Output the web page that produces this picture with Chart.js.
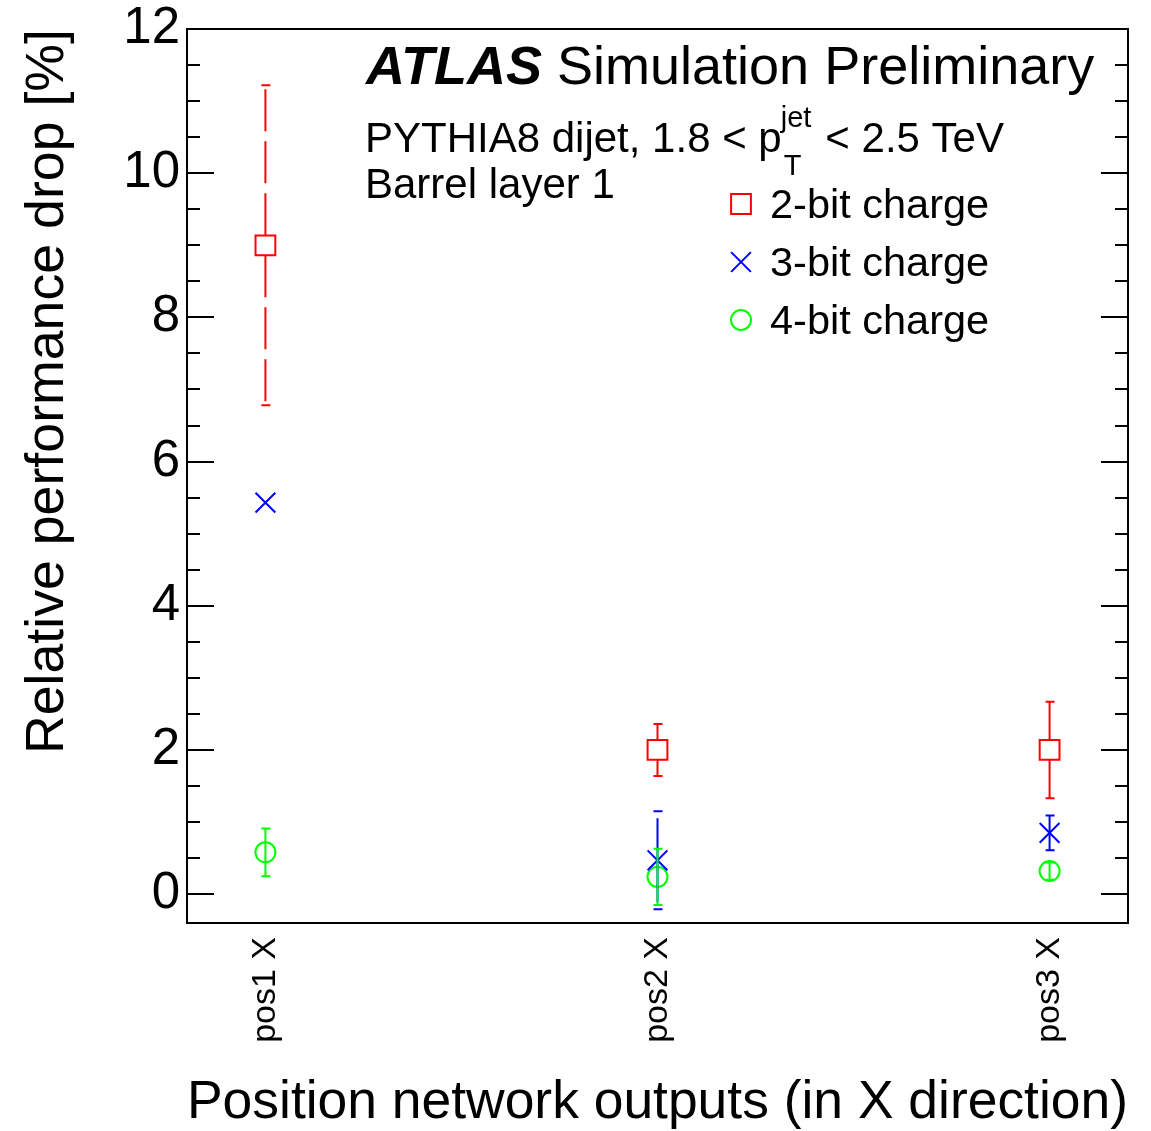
<!DOCTYPE html>
<html lang="en">

<head>
    <meta charset="UTF-8">
    <title>Relative performance drop</title>
    <script src="https://cdn.jsdelivr.net/npm/chart.js"></script>
    <style>
        body {
            margin: 0;
            background: #fff;
        }

        .chart-container {
            width: 1151px;
            height: 1131px;
        }
    </style>
</head>

<body>
    <div class="chart-container">
        <canvas id="dropChart" width="1151" height="1131"></canvas>
    </div>

    <script>
        // positions on the x axis and their labels
        const positions = [1, 2, 3];
        const categories = ['pos1 X', 'pos2 X', 'pos3 X'];

        // relative performance drop [%] and its uncertainty
        const twoBit = [9.0, 2.0, 2.0];
        const twoBitErr = [2.22, 0.36, 0.67];
        const threeBit = [5.43, 0.47, 0.85];
        const threeBitErr = [0, 0.68, 0.24];
        const fourBit = [0.58, 0.24, 0.32];
        const fourBitErr = [0.33, 0.39, 0.12];

        const seriesNames = ['2-bit charge', '3-bit charge', '4-bit charge'];
        const errors = [twoBitErr, threeBitErr, fourBitErr];

        const FONT = "'Liberation Sans', Arial, Helvetica, sans-serif";

        function points(values) {
            return positions.map((x, i) => ({ x: x, y: values[i] }));
        }

        // error bars, drawn through the chart scales
        const errorBars = {
            id: 'errorBars',
            afterDatasetsDraw(chart) {
                const ctx = chart.ctx;
                const x = chart.scales.x, y = chart.scales.y;
                chart.data.datasets.forEach((ds, i) => {
                    ds.data.forEach((p, j) => {
                        const e = errors[i][j];
                        if (!e) return;
                        const px = x.getPixelForValue(p.x);
                        const py = y.getPixelForValue(p.y);
                        const top = y.getPixelForValue(p.y + e);
                        const bot = y.getPixelForValue(p.y - e);
                        const gap = ds.errGap || 0;
                        const dashed = ds.errDashed && ds.errDashed[j];
                        ctx.save();
                        ctx.strokeStyle = ds.borderColor;
                        ctx.lineWidth = 2;
                        ctx.setLineDash(dashed ? [42, 10] : []);
                        ctx.beginPath();
                        ctx.moveTo(px, py - gap);
                        ctx.lineTo(px, top);
                        ctx.moveTo(px, py + gap);
                        ctx.lineTo(px, bot);
                        ctx.stroke();
                        ctx.setLineDash([]);
                        if (py - top > ds.pointRadius * 0.75) {
                            ctx.beginPath();
                            ctx.moveTo(px - 4, top);
                            ctx.lineTo(px + 5, top);
                            ctx.moveTo(px - 4, bot);
                            ctx.lineTo(px + 5, bot);
                            ctx.stroke();
                        }
                        ctx.restore();
                    });
                });
            }
        };

        // frame with ROOT style ticks, labels and legend
        const decorations = {
            id: 'decorations',
            afterDraw(chart) {
                const ctx = chart.ctx;
                const a = chart.chartArea;
                const y = chart.scales.y;
                ctx.save();
                ctx.strokeStyle = '#000';
                ctx.lineWidth = 2;
                ctx.strokeRect(a.left, a.top, a.right - a.left, a.bottom - a.top);

                ctx.beginPath();
                for (let k = Math.ceil(y.min / 0.5); k <= Math.floor(y.max / 0.5); k++) {
                    const v = k * 0.5;
                    const py = Math.round(y.getPixelForValue(v));
                    const len = v % 2 === 0 ? 27 : 13;
                    ctx.moveTo(a.left, py);
                    ctx.lineTo(a.left + len, py);
                    ctx.moveTo(a.right, py);
                    ctx.lineTo(a.right - len, py);
                }
                ctx.stroke();

                ctx.fillStyle = '#000';
                ctx.textBaseline = 'alphabetic';
                ctx.textAlign = 'left';
                ctx.font = 'italic bold 54px ' + FONT;
                ctx.fillText('ATLAS', 366, 84);
                ctx.font = '54px ' + FONT;
                ctx.fillText('Simulation Preliminary', 557, 84);

                ctx.font = '42px ' + FONT;
                const first = 'PYTHIA8 dijet, 1.8 < p';
                ctx.fillText(first, 365, 152);
                const end = 365 + ctx.measureText(first).width;
                ctx.font = '29px ' + FONT;
                ctx.fillText('jet', end - 1, 127);
                const wJet = ctx.measureText('jet').width;
                ctx.fillText('T', end + 2, 175);
                ctx.font = '42px ' + FONT;
                ctx.fillText('< 2.5 TeV', end + wJet + 13, 152);
                ctx.fillText('Barrel layer 1', 365, 198);

                // legend
                const rows = [204, 262, 320];
                chart.data.datasets.forEach((ds, i) => {
                    ctx.save();
                    ctx.strokeStyle = ds.borderColor;
                    ctx.fillStyle = 'rgba(0,0,0,0)';
                    ctx.lineWidth = 2;
                    Chart.helpers.drawPoint(ctx, {
                        pointStyle: ds.pointStyle,
                        radius: ds.pointRadius,
                        borderWidth: 2,
                        rotation: 0
                    }, 741, rows[i]);
                    ctx.restore();
                    ctx.font = '41.5px ' + FONT;
                    ctx.fillStyle = '#000';
                    ctx.fillText(seriesNames[i], 770, rows[i] + 14);
                });
                ctx.restore();
            }
        };

        const ctx = document.getElementById('dropChart').getContext('2d');
        new Chart(ctx, {
            type: 'scatter',
            data: {
                datasets: [{
                    label: seriesNames[0],
                    data: points(twoBit),
                    borderColor: '#ff0000',
                    backgroundColor: 'rgba(0,0,0,0)',
                    pointStyle: 'rect',
                    pointRadius: 14,
                    pointBorderWidth: 2,
                    errGap: 10,
                    errDashed: [true, false, false]
                }, {
                    label: seriesNames[1],
                    data: points(threeBit),
                    borderColor: '#0000ff',
                    backgroundColor: 'rgba(0,0,0,0)',
                    pointStyle: 'crossRot',
                    pointRadius: 14,
                    pointBorderWidth: 2,
                    errDashed: [false, true, false]
                }, {
                    label: seriesNames[2],
                    data: points(fourBit),
                    borderColor: '#00ff00',
                    backgroundColor: 'rgba(0,0,0,0)',
                    pointStyle: 'circle',
                    pointRadius: 10,
                    pointBorderWidth: 2
                }]
            },
            options: {
                responsive: false,
                animation: false,
                layout: {
                    padding: { top: 29, right: 23, bottom: 0, left: 0 }
                },
                plugins: {
                    legend: { display: false },
                    tooltip: { enabled: false }
                },
                scales: {
                    x: {
                        type: 'linear',
                        min: 0.8,
                        max: 3.2,
                        afterFit: s => {
                            s.height = 208;
                            s.paddingLeft = 0;
                            s.paddingRight = 0;
                        },
                        grid: { display: false, drawTicks: false },
                        border: { display: false },
                        ticks: {
                            stepSize: 1,
                            includeBounds: false,
                            autoSkip: false,
                            minRotation: 90,
                            maxRotation: 90,
                            padding: 14,
                            color: '#000',
                            font: { family: FONT, size: 34, lineHeight: 0.1 },
                            callback: v => categories[positions.indexOf(v)] || ''
                        },
                        title: {
                            display: true,
                            text: 'Position network outputs (in X direction)',
                            align: 'end',
                            color: '#000',
                            font: { family: FONT, size: 53.7, lineHeight: 1 },
                            padding: { top: 0, bottom: 1 }
                        }
                    },
                    y: {
                        min: -0.4,
                        max: 12,
                        afterFit: s => {
                            s.width = 187;
                            s.paddingTop = 0;
                            s.paddingBottom = 0;
                        },
                        grid: { display: false, drawTicks: false },
                        border: { display: false },
                        ticks: {
                            stepSize: 2,
                            includeBounds: false,
                            padding: 7,
                            color: '#000',
                            font: { family: FONT, size: 51, lineHeight: 1 }
                        },
                        title: {
                            display: true,
                            text: 'Relative performance drop [%]',
                            align: 'end',
                            color: '#000',
                            font: { family: FONT, size: 53.7 },
                            padding: { top: 16, bottom: 0 }
                        }
                    }
                }
            },
            plugins: [errorBars, decorations]
        });
    </script>
</body>

</html>
